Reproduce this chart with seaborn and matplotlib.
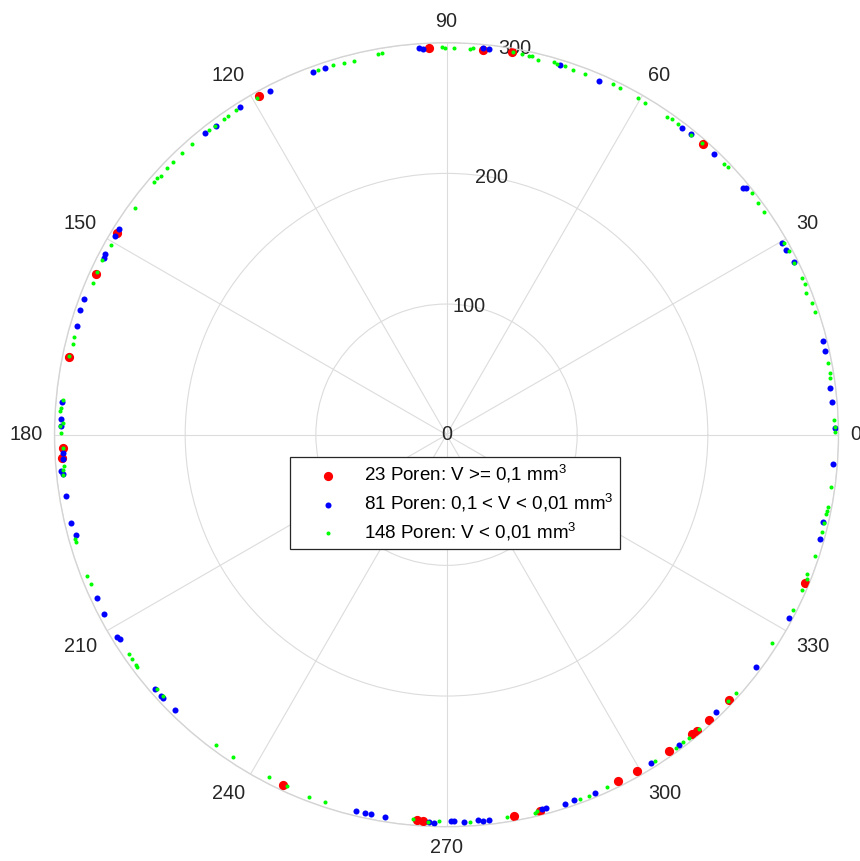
import numpy as np
import matplotlib
matplotlib.use("Agg")
import matplotlib.pyplot as plt
import seaborn as sns

# pore directions (deg) and radii
red_theta = [48.6, 80.3, 84.6, 92.6, 119.0, 148.5, 155.4, 168.4, 182.0, 183.5, 245.0, 265.6,
             266.5, 280.0, 284.0, 296.3, 299.5, 305.2, 309.4, 310.2, 312.6, 316.8, 337.5]
red_r = [297, 297, 296, 296, 296, 296, 295, 295, 294, 295, 296, 296,
         296, 296, 297, 296, 296, 296, 296, 297, 297, 297, 297]

blue_theta = [1.0, 4.8, 6.9, 12.5, 14.0, 26.4, 28.5, 29.7, 39.5, 39.8, 46.4, 50.9, 52.4, 66.7, 72.9,
              83.7, 84.6, 93.5, 94.1, 108.3, 110.2, 117.2, 122.2, 126.7, 128.7, 147.9, 149.1, 152.1,
              152.7, 159.4, 161.2, 163.6, 175.1, 177.7, 178.7, 182.7, 183.6, 185.4, 185.9, 189.2,
              193.2, 195.1, 205.0, 207.6, 211.5, 212.0, 221.1, 222.4, 222.9, 225.4, 256.5, 257.8,
              258.7, 260.9, 267.4, 268.2, 270.7, 271.1, 272.6, 274.7, 275.4, 276.3, 284.3, 284.9,
              287.8, 289.2, 292.5, 302.0, 306.8, 314.1, 323.1, 331.8, 344.4, 346.9, 355.7]
blue_r = [297, 296, 296, 297, 297, 297, 296, 296, 297, 295, 297, 297, 296, 295, 296,
          297, 297, 296, 297, 296, 296, 296, 296, 295, 296, 296, 296, 296, 295, 296,
          296, 295, 295, 295, 295, 294, 294, 296, 295, 295, 295, 294, 295, 296, 296,
          295, 296, 296, 296, 296, 296, 296, 296, 296, 297, 297, 296, 296, 297, 296,
          297, 297, 296, 296, 297, 296, 297, 296, 297, 296, 296, 297, 297, 296, 297]

green_theta = [0.4, 1.1, 2.2, 8.4, 9.2, 10.6, 18.4, 19.8, 21.5, 22.8, 23.8, 26.3, 28.2, 29.6, 35.0,
               36.6, 38.4, 43.6, 44.3, 48.8, 50.7, 53.3, 54.5, 55.2, 59.2, 60.4, 63.4, 64.6, 69.0,
               70.9, 72.2, 73.4, 73.9, 76.3, 77.3, 77.7, 78.8, 80.1, 86.1, 86.5, 88.9, 90.2, 90.7,
               99.6, 100.2, 103.9, 105.4, 107.1, 109.4, 119.4, 123.0, 124.4, 125.2, 126.9, 127.9,
               131.2, 133.2, 135.1, 136.3, 137.9, 138.5, 139.2, 144.0, 150.5, 153.1, 155.0, 156.8,
               165.3, 166.4, 168.2, 174.8, 176.0, 176.5, 178.3, 178.7, 179.7, 182.0, 184.7, 185.3,
               186.0, 195.7, 196.2, 201.5, 202.8, 214.6, 215.5, 216.6, 216.9, 221.3, 222.7, 233.4,
               236.5, 242.5, 245.6, 249.2, 251.7, 265.0, 267.3, 268.9, 273.5, 279.0, 283.2, 283.5,
               290.1, 291.6, 294.5, 302.6, 306.2, 307.6, 308.7, 310.6, 316.6, 318.3, 327.4, 333.1,
               336.4, 338.2, 338.9, 341.8, 345.5, 346.8, 348.2, 348.7, 349.3, 352.3]
green_r = [297, 297, 297, 297, 297, 297, 297, 297, 296, 298, 297, 297, 297, 297, 297,
           297, 298, 297, 297, 297, 296, 297, 297, 296, 296, 296, 297, 297, 296, 295,
           296, 296, 297, 295, 297, 297, 297, 297, 297, 296, 296, 296, 297, 296, 296,
           295, 295, 296, 296, 296, 296, 296, 296, 295, 296, 296, 296, 296, 296, 295,
           296, 296, 295, 295, 296, 295, 294, 295, 294, 295, 295, 296, 296, 294, 296,
           295, 294, 294, 295, 295, 295, 295, 296, 295, 295, 296, 296, 296, 295, 295,
           296, 296, 295, 295, 297, 296, 295, 297, 296, 297, 296, 297, 296, 297, 297,
           296, 296, 297, 297, 297, 297, 297, 297, 296, 297, 297, 297, 296, 297, 297,
           297, 297, 297, 297, 297]

labels = ["23 Poren: V >= 0,1 mm$^3$",
          "81 Poren: 0,1 < V < 0,01 mm$^3$",
          "148 Poren: V < 0,01 mm$^3$"]
theta_ticks = list(range(0, 360, 30))
r_ticks = [0, 100, 200, 300]

sns.set_style("white")
plt.rcParams["font.family"] = ["Liberation Sans", "DejaVu Sans"]
plt.rcParams["mathtext.fontset"] = "custom"
plt.rcParams["mathtext.rm"] = "Liberation Sans"
plt.rcParams["mathtext.it"] = "Liberation Sans"
txt = "#262626"
grid_c = "#dcdcdc"

fig = plt.figure(figsize=(8.6, 8.61), dpi=100)
ax = fig.add_axes([0.0634, 0.0398, 0.9116, 0.9106], projection="polar")

sns.scatterplot(x=np.deg2rad(red_theta), y=red_r, ax=ax, color="#ff0000", s=44,
                linewidth=0, label=labels[0], zorder=3)
sns.scatterplot(x=np.deg2rad(blue_theta), y=blue_r, ax=ax, color="#0000ff", s=19,
                linewidth=0, label=labels[1], zorder=4)
sns.scatterplot(x=np.deg2rad(green_theta), y=green_r, ax=ax, color="#00ff00", s=8.5,
                linewidth=0, label=labels[2], zorder=5)

ax.set_ylim(0, 300)
ax.set_yticks(r_ticks)
ax.set_yticklabels([])
ax.set_xticks(np.deg2rad(theta_ticks))
ax.set_xticklabels([])
ax.tick_params(length=0)
ax.grid(True, color=grid_c, linewidth=0.8)
ax.spines["polar"].set_color("#d4d4d4")
ax.spines["polar"].set_linewidth(1.0)
ax.set_xlabel("")
ax.set_ylabel("")

# angle labels: nearest edge of each label sits just outside the circle
for t in theta_ticks:
    c, s = np.cos(np.deg2rad(t)), np.sin(np.deg2rad(t))
    ha = "left" if c > 0.1 else ("right" if c < -0.1 else "center")
    va = "bottom" if s > 0.1 else ("top" if s < -0.1 else "center")
    ax.text(np.deg2rad(t), 309, str(t), ha=ha, va=va, fontsize=14.3,
            color=txt, clip_on=False)
for r in r_ticks:
    ax.text(np.deg2rad(80), r, str(r), ha="center", va="center", fontsize=14.3,
            color=txt, zorder=2)

leg = ax.legend(loc="center", bbox_to_anchor=(455 / 860, 1 - 503 / 861),
                bbox_transform=fig.transFigure, fontsize=13.5, frameon=True, fancybox=False,
                framealpha=1, edgecolor=txt, borderpad=0.35, handlelength=3.4,
                handletextpad=0.22, labelspacing=0.36)
leg.get_frame().set_linewidth(0.9)
for t in leg.get_texts():
    t.set_color("#000000")

fig.savefig("out.png", dpi=100, facecolor="white")
